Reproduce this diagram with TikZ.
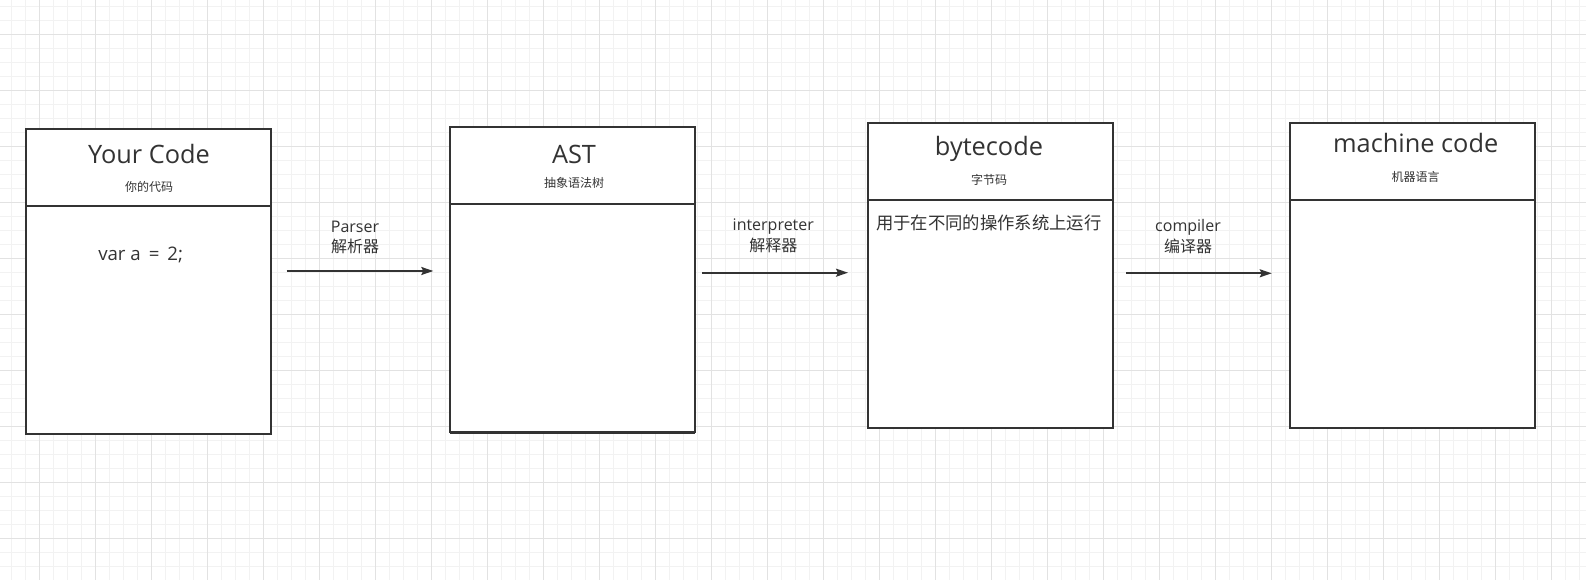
\documentclass[tikz,border=0pt]{standalone}
\usepackage{fontspec}
\setmainfont{Open Sans}
\newfontfamily\cjk{Noto Sans CJK SC}
\usetikzlibrary{arrows.meta}
\definecolor{ink}{HTML}{333333}
\definecolor{gridminor}{HTML}{F2F2F2}
\definecolor{gridmajor}{HTML}{E2E2E2}
\begin{document}
\begin{tikzpicture}[x=0.75pt,y=-0.75pt,
  box/.style={draw=ink, line width=1.5pt, fill=white, minimum width=183.75pt, minimum height=228.75pt, inner sep=0pt, outer sep=0pt},
  divider/.style={draw=ink, line width=1.5pt},
  arr/.style={draw=ink, line width=1.3pt, -{Stealth[length=9pt,width=6pt,inset=1.5pt]}},
  title/.style={text=ink, font=\fontsize{19}{22}\selectfont, anchor=base, inner sep=0pt},
  sub/.style={text=ink, font=\cjk\fontsize{9}{11}\selectfont, inner sep=0pt},
  lbl/.style={text=ink, font=\fontsize{12}{14}\selectfont, anchor=base, inner sep=0pt},
  lblcn/.style={text=ink, font=\cjk\fontsize{12}{14}\selectfont, inner sep=0pt},
  body/.style={text=ink, font=\fontsize{14}{17}\selectfont, inner sep=0pt},
  bodycn/.style={text=ink, font=\cjk\fontsize{13}{16}\selectfont, inner sep=0pt},
  minorline/.style={draw=gridminor, line width=0.75pt},
  majorline/.style={draw=gridmajor, line width=0.75pt},
]
\useasboundingbox (0,0) rectangle (1586,580);
\fill[white] (0,0) rectangle (1586,580);
% grid
\foreach \i in {0,...,112} \draw[minorline] ({11.7+14*\i},0) -- ({11.7+14*\i},580);
\foreach \i in {0,...,40} \draw[minorline] (0,{6.5+14*\i}) -- (1586,{6.5+14*\i});
\foreach \i in {0,...,27} \draw[majorline] ({39.7+56*\i},0) -- ({39.7+56*\i},580);
\foreach \i in {0,...,9} \draw[majorline] (0,{34.5+56*\i}) -- (1586,{34.5+56*\i});

% boxes
\node[box] (b1) at (148.85,281.2) {};
\node[box] (b2) at (572.35,279.35) {};
\node[box] (b3) at (990,276) {};
\node[box] (b4) at (1412.5,276) {};
\foreach \b in {b1,b2,b3,b4}
  \draw[divider] ([yshift=-57.75pt]\b.north west) -- ([yshift=-57.75pt]\b.north east);
\draw[divider] ([yshift=-1pt]b2.south west) -- ([yshift=-1pt]b2.south east);

% titles
\node[title] (t1) at (149,164) {Your Code};
\node[sub] (s1) at (149,186.7) {你的代码};
\node[title] (t2) at (574,163.3) {AST};
\node[sub] (s2) at (574,183) {抽象语法树};
\node[title] (t3) at (989,156) {bytecode};
\node[sub] (s3) at (989,180) {字节码};
\node[title] (t4) at (1415.7,152.7) {machine code};
\node[sub] (s4) at (1415.7,176.7) {机器语言};

% body texts
\node[body, anchor=base west] (c1) at (98,261) {var a \,= \,2;};
\node[bodycn, anchor=west] (c3) at (876,223.3) {用于在不同的操作系统上运行};

% arrows
\coordinate (a1s) at (286.7,271);
\coordinate (a1e) at (433.3,271);
\coordinate (a2s) at (702,272.7);
\coordinate (a2e) at (848,272.7);
\coordinate (a3s) at (1126,273.3);
\coordinate (a3e) at (1271.7,273.3);
\draw[arr] (a1s) -- (a1e);
\draw[arr] (a2s) -- (a2e);
\draw[arr] (a3s) -- (a3e);

% arrow labels
\node[lbl] (l1) at (355,232.7) {Parser};
\node[lblcn] (l1c) at (355,246.7) {解析器};
\node[lbl] (l2) at (773.3,230.7) {interpreter};
\node[lblcn] (l2c) at (773.3,245) {解释器};
\node[lbl] (l3) at (1188,231.7) {compiler};
\node[lblcn] (l3c) at (1188,246.7) {编译器};
\end{tikzpicture}
\end{document}
